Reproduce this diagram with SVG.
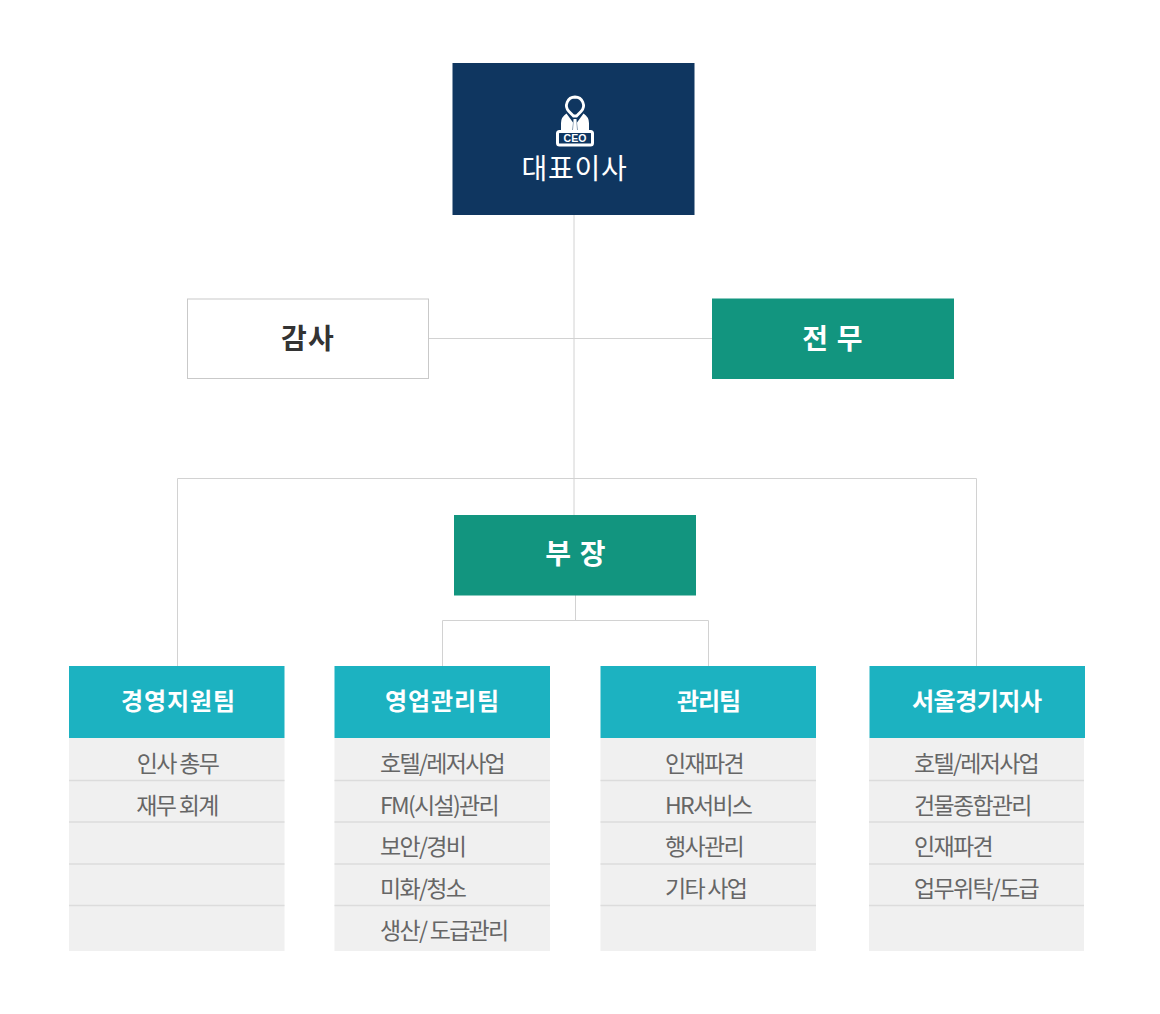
<svg xmlns="http://www.w3.org/2000/svg" width="1160" height="1014" viewBox="0 0 1160 1014">
<style>
text{font-family:"Noto Sans CJK KR","Noto Sans",sans-serif}
.c{fill:none;stroke:#d2d2d2;stroke-width:1}
.top{font-size:28px;fill:#fff;text-anchor:middle;font-weight:400;letter-spacing:.7px}
.big{font-size:28px;font-weight:700;text-anchor:middle;letter-spacing:1.2px}
.hd{fill:#1cb2c1}
.ht{font-size:24px;font-weight:700;fill:#fff;text-anchor:middle;letter-spacing:-1px}
.b{fill:#f0f0f0}
.r{stroke:#dcdcdc;stroke-width:1.5}
.t{font-size:23px;fill:#666;letter-spacing:-1.7px}
.m{text-anchor:middle}
</style>
<rect width="1160" height="1014" fill="#fff"/>
<g id="connectors">
<path class="c" d="M574 214V515M429 338.500H712M177.500 666V478.500H976.500V666M575.500 595V620.500M442.500 666V620.500H708.500V666"/>
</g>
<g id="ceo">
<rect x="452.500" y="63" width="242" height="152" fill="#0f3660"/>
<path d="M575 97A8.500 8.500 0 0 1 581 111.500L576.500 116H573.500L569 111.500A8.500 8.500 0 0 1 575 97Z" fill="none" stroke="#fff" stroke-width="2.800"/>
<path d="M566.500 113.500L573 122.500L572.500 130H561V123Q561 117 566.500 113.500ZM583.500 113.500L577 122.500L577.500 130H589V123Q589 117 583.500 113.500ZM573.500 119H576.500L577 130H573Z" fill="#fff"/>
<rect x="557.500" y="131.500" width="35" height="13.500" rx="2" fill="#0f3660" stroke="#fff" stroke-width="3"/>
<text x="575" y="141.800" font-size="10.500" font-weight="700" fill="#fff" text-anchor="middle" style="font-family:'Liberation Sans',sans-serif">CEO</text>
<text class="top" x="574.500" y="178.500">대표이사</text>
</g>
<g id="audit">
<rect x="187.500" y="299" width="241" height="79.500" fill="#fff" stroke="#c9c9c9"/>
<text class="big" x="308" y="349" fill="#333">감사</text>
</g>
<g id="director">
<rect x="712" y="298.500" width="242" height="80.500" fill="#12957f"/>
<text class="big" x="833" y="349" fill="#fff" xml:space="preserve">전 무</text>
</g>
<g id="manager">
<rect x="454" y="515" width="242" height="80.500" fill="#12957f"/>
<text class="big" x="576" y="564" fill="#fff" xml:space="preserve">부 장</text>
</g>
<g id="team1">
<rect class="hd" x="69" y="666" width="215.500" height="72"/>
<text class="ht" x="121" y="710" style="text-anchor:start" textLength="113">경영지원팀</text>
<rect class="b" x="69" y="738" width="215.500" height="213"/>
<path class="r" d="M69 780.500H284.500M69 822H284.500M69 864H284.500M69 905.500H284.500"/>
<text class="t m" x="177.500" y="771.500">인사 총무</text>
<text class="t m" x="177" y="813.500">재무 회계</text>
</g>
<g id="team2">
<rect class="hd" x="334.500" y="666" width="215.500" height="72"/>
<text class="ht" x="385" y="710" style="text-anchor:start" textLength="113">영업관리팀</text>
<rect class="b" x="334.500" y="738" width="215.500" height="213"/>
<path class="r" d="M334.500 780.500H550M334.500 822H550M334.500 864H550M334.500 905.500H550"/>
<text class="t" x="380" y="771.500">호텔/레저사업</text>
<text class="t" x="380" y="813.500">FM(시설)관리</text>
<text class="t" x="380" y="854.500">보안/경비</text>
<text class="t" x="380" y="896.500">미화/청소</text>
<text class="t" x="380" y="938.500">생산/ 도급관리</text>
</g>
<g id="team3">
<rect class="hd" x="600.500" y="666" width="215.500" height="72"/>
<text class="ht" x="708.500" y="710">관리팀</text>
<rect class="b" x="600.500" y="738" width="215.500" height="213"/>
<path class="r" d="M600.500 780.500H816M600.500 822H816M600.500 864H816M600.500 905.500H816"/>
<text class="t" x="665" y="771.500">인재파견</text>
<text class="t" x="665" y="813.500">HR서비스</text>
<text class="t" x="665" y="854.500">행사관리</text>
<text class="t" x="665" y="896.500">기타 사업</text>
</g>
<g id="team4">
<rect class="hd" x="869.500" y="666" width="215.500" height="72"/>
<text class="ht" x="912" y="710" style="text-anchor:start" textLength="129">서울경기지사</text>
<rect class="b" x="869" y="738" width="215" height="213"/>
<path class="r" d="M869 780.500H1084M869 822H1084M869 864H1084M869 905.500H1084"/>
<text class="t" x="914" y="771.500">호텔/레저사업</text>
<text class="t" x="914" y="813.500">건물종합관리</text>
<text class="t" x="914" y="854.500">인재파견</text>
<text class="t" x="914" y="896.500">업무위탁/도급</text>
</g>
</svg>
